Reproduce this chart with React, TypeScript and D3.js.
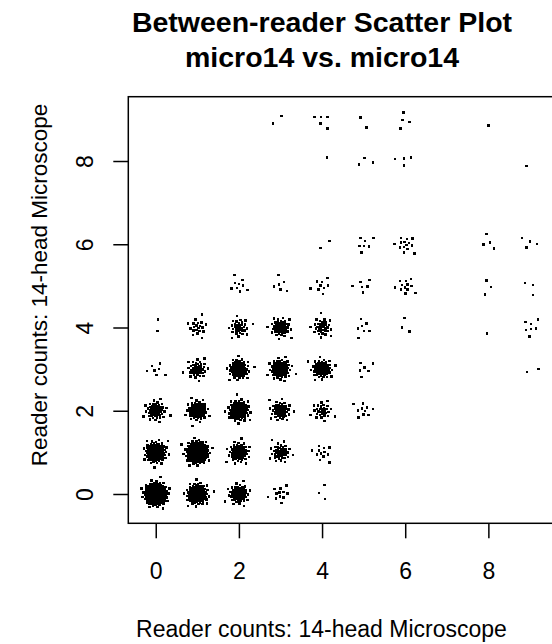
import React, { useRef, useEffect } from "react";
import * as d3 from "d3";

// reader counts (same for both axes)
const readerLevels = [0, 1, 2, 3, 4, 5, 6, 7, 8, 9];

// how many cases fall on each (x, y) cell, one array per y level, indexed by x
const countsY0 = [300, 150, 70, 12, 3, 0, 0, 0, 0, 0];
const countsY1 = [150, 250, 80, 45, 12, 0, 0, 0, 0, 0];
const countsY2 = [60, 80, 110, 55, 30, 10, 0, 0, 0, 0];
const countsY3 = [7, 45, 80, 90, 70, 6, 0, 0, 0, 2];
const countsY4 = [2, 20, 35, 50, 35, 7, 3, 0, 1, 7];
const countsY5 = [0, 0, 9, 6, 9, 6, 12, 0, 3, 3];
const countsY6 = [0, 0, 0, 0, 2, 7, 14, 0, 4, 4];
const countsY7 = [0, 0, 0, 0, 0, 0, 0, 0, 0, 0];
const countsY8 = [0, 0, 0, 0, 1, 3, 4, 0, 0, 1];
const countsY9 = [0, 0, 0, 2, 5, 2, 4, 0, 1, 0];
const countRows = [countsY0, countsY1, countsY2, countsY3, countsY4, countsY5, countsY6, countsY7, countsY8, countsY9];

const xTicks = [0, 2, 4, 6, 8];
const yTicks = [0, 2, 4, 6, 8];

const titleLines = ["Between-reader Scatter Plot", "micro14 vs. micro14"];
const xTitle = "Reader counts: 14-head Microscope";
const yTitle = "Reader counts: 14-head Microscope";

const W = 552, H = 644;
const plotL = 128.3, plotR = 554.9, plotT = 96.7, plotB = 523.3;
const font = "'Liberation Sans', Arial, Helvetica, sans-serif";

const x = d3.scaleLinear().domain([-0.66, 9.6]).range([plotL, plotR]);
const y = d3.scaleLinear().domain([-0.704, 9.545]).range([plotB, plotT]);

// spread the overlapping integer points so clusters show (like jitter in R)
const sd = 0.12;
const golden = Math.PI * (3 - Math.sqrt(5));
type Pt = { px: number; py: number; key: string };
const points: Pt[] = [];
countRows.forEach((row, yi) => {
  row.forEach((n, xi) => {
    for (let k = 0; k < n; k++) {
      const q = (k + 0.5) / n;
      const r = sd * Math.sqrt(-2 * Math.log(1 - q));
      const a = k * golden + xi * 0.7 + yi * 1.3;
      points.push({
        px: x(readerLevels[xi] + r * Math.cos(a)),
        py: y(readerLevels[yi] + r * Math.sin(a)),
        key: `${xi}-${yi}-${k}`,
      });
    }
  });
});

function ScatterPlot() {
  const xAxisRef = useRef<SVGGElement>(null);
  const yAxisRef = useRef<SVGGElement>(null);

  useEffect(() => {
    const gx = d3.select(xAxisRef.current);
    gx.call(d3.axisBottom(x).tickValues(xTicks).tickSize(15).tickSizeOuter(0).tickFormat(d3.format("d")));
    gx.select(".domain").remove();
    gx.selectAll(".tick line").attr("stroke", "#000").attr("stroke-width", 1.5);
    gx.selectAll(".tick text")
      .attr("y", 55.7).attr("dy", 0)
      .attr("font-family", font).attr("font-size", 23).attr("fill", "#000");

    const gy = d3.select(yAxisRef.current);
    gy.call(d3.axisLeft(y).tickValues(yTicks).tickSize(15).tickSizeOuter(0).tickFormat(d3.format("d")));
    gy.select(".domain").remove();
    gy.selectAll(".tick line").attr("stroke", "#000").attr("stroke-width", 1.5);
    gy.selectAll(".tick text")
      .attr("x", 0).attr("dy", 0)
      .attr("text-anchor", "middle")
      .attr("transform", "translate(-35.3,0) rotate(-90)")
      .attr("font-family", font).attr("font-size", 23).attr("fill", "#000");
  }, []);

  return (
    <svg width={W} height={H} style={{ position: "absolute", left: 0, top: 0, background: "#fff" }}>
      <rect width={W} height={H} fill="#fff" />
      {titleLines.map((t, i) => (
        <text key={t} x={322} y={32 + i * 35} textAnchor="middle" fontFamily={font} fontWeight="bold" fontSize={28.5} fill="#000">
          {t}
        </text>
      ))}
      <g shapeRendering="crispEdges">
        {points.map(p => (
          <rect key={p.key} x={p.px - 1.25} y={p.py - 1.25} width={2.5} height={2.5} fill="#000" />
        ))}
      </g>
      <rect x={plotL} y={plotT} width={plotR - plotL} height={plotB - plotT} fill="none" stroke="#000" strokeWidth={1.5} />
      <g ref={xAxisRef} transform={`translate(0,${plotB})`} />
      <g ref={yAxisRef} transform={`translate(${plotL},0)`} />
      <text x={321.5} y={637} textAnchor="middle" fontFamily={font} fontSize={23} fill="#000">{xTitle}</text>
      <text transform="translate(47,285) rotate(-90)" textAnchor="middle" fontFamily={font} fontSize={22.5} fill="#000">{yTitle}</text>
    </svg>
  );
}

export default function App() {
  return <ScatterPlot />;
}
